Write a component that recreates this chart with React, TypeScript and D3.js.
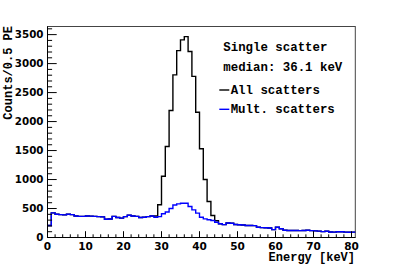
import React from "react";
import * as d3 from "d3";

// 1 keV bins, lower edges 0..80
const binLowEdges: number[] = d3.range(0, 81);

const multScatters: number[] = [
  207, 425, 400, 395, 390, 400, 395, 370, 365, 365,
  370, 368, 365, 360, 355, 315, 320, 365, 345, 335,
  360, 385, 370, 365, 345, 350, 360, 370, 350, 360,
  410, 440, 500, 560, 580, 592, 590, 534, 477, 420,
  350, 322, 305, 293, 264, 236, 222, 250, 245, 225,
  220, 215, 208, 207, 205, 178, 170, 168, 165, 135,
  178, 150, 125, 122, 120, 120, 118, 120, 125, 118,
  115, 110, 102, 108, 95, 93, 100, 98, 92, 90,
  92,
];

const allScatters: number[] = [
  207, 425, 400, 395, 390, 400, 395, 370, 365, 365,
  370, 368, 365, 360, 355, 315, 320, 365, 345, 335,
  360, 385, 370, 365, 345, 350, 360, 370, 370, 565,
  1057, 1569, 2190, 2805, 3224, 3410, 3466, 3210, 2780, 2160,
  1530, 1000, 620, 380, 290, 236, 222, 250, 245, 225,
  220, 215, 208, 207, 205, 178, 170, 168, 165, 135,
  178, 150, 125, 122, 120, 120, 118, 120, 125, 118,
  115, 110, 102, 108, 95, 93, 100, 98, 92, 90,
  92,
];

const xTicks: number[] = [0, 10, 20, 30, 40, 50, 60, 70, 80];
const yTicks: number[] = [0, 500, 1000, 1500, 2000, 2500, 3000, 3500];
const xDomain: [number, number] = [0, 81];
const yDomain: [number, number] = [0, 3640];
const binWidth = 1;

const textLines = ["Single scatter", "median: 36.1 keV"];
const legendItems = [
  { label: "All scatters", color: "#000000" },
  { label: "Mult. scatters", color: "#0000ff" },
];

const W = 395;
const H = 267;
const L = 47.5;
const R = 355.3;
const T = 26.5;
const B = 237.5;

export default function App() {
  const x = d3.scaleLinear().domain(xDomain).range([L, R]);
  const y = d3.scaleLinear().domain(yDomain).range([B, T]);

  const stepPath = (vals: number[]) => {
    const pts: [number, number][] = binLowEdges.map((e, i) => [e, vals[i]]);
    pts.push([binLowEdges[binLowEdges.length - 1] + binWidth, vals[vals.length - 1]]);
    return d3
      .line<[number, number]>()
      .x((d) => x(d[0]))
      .y((d) => y(d[1]))
      .curve(d3.curveStepAfter)(pts) as string;
  };

  const xMinor = d3.range(0, 81, 2).filter((v) => v % 10 !== 0);
  const yMinor = d3.range(0, 3601, 100).filter((v) => v % 500 !== 0);

  const mono = "'Liberation Mono', 'DejaVu Sans Mono', monospace";
  const sans = "'DejaVu Sans', sans-serif";

  return (
    <div style={{ position: "absolute", left: 0, top: 0 }}>
      <svg width={W} height={H} style={{ display: "block", background: "#fff" }}>
        <rect x={0} y={0} width={W} height={H} fill="#fff" />
        {/* frame */}
        <rect x={L} y={T} width={R - L} height={B - T} fill="none" stroke="#444" strokeWidth={1} />

        {/* histograms */}
        <path d={stepPath(allScatters)} fill="none" stroke="#000" strokeWidth={1.4} />
        <path d={stepPath(multScatters)} fill="none" stroke="#0000ff" strokeWidth={1.4} />

        {/* axes */}
        <line x1={L} x2={R} y1={B} y2={B} stroke="#000" />
        <line x1={L} x2={L} y1={T} y2={B} stroke="#000" />
        {xTicks.map((t) => (
          <g key={"xt" + t}>
            <line x1={x(t)} x2={x(t)} y1={B} y2={B - 6.3} stroke="#000" />
            <text
              x={x(t)}
              y={250}
              textAnchor="middle"
              fontFamily={sans}
              fontWeight="bold"
              fontSize={10.5}
            >
              {t}
            </text>
          </g>
        ))}
        {xMinor.map((t) => (
          <line key={"xm" + t} x1={x(t)} x2={x(t)} y1={B} y2={B - 3.2} stroke="#000" />
        ))}
        {yTicks.map((t) => (
          <g key={"yt" + t}>
            <line x1={L} x2={L + 9.2} y1={y(t)} y2={y(t)} stroke="#000" />
            <text
              x={43.5}
              y={y(t) + 3.7}
              textAnchor="end"
              fontFamily={sans}
              fontWeight="bold"
              fontSize={10.3}
            >
              {t}
            </text>
          </g>
        ))}
        {yMinor.map((t) => (
          <line key={"ym" + t} x1={L} x2={L + 4.6} y1={y(t)} y2={y(t)} stroke="#000" />
        ))}

        {/* axis titles */}
        <text x={355} y={261} textAnchor="end" fontFamily={mono} fontWeight="bold" fontSize={12}>
          Energy [keV]
        </text>
        <text
          transform={`translate(11.5, 26) rotate(-90)`}
          textAnchor="end"
          fontFamily={mono}
          fontWeight="bold"
          fontSize={12}
        >
          Counts/0.5 PE
        </text>

        {/* annotation */}
        {textLines.map((s, i) => (
          <text
            key={s}
            x={223.3}
            y={50.5 + i * 20.3}
            fontFamily={mono}
            fontWeight="bold"
            fontSize={12.4}
          >
            {s}
          </text>
        ))}
        {legendItems.map((it, i) => (
          <g key={it.label}>
            <line
              x1={219.3}
              x2={229.3}
              y1={90 + i * 19.3}
              y2={90 + i * 19.3}
              stroke={it.color}
              strokeWidth={1.4}
            />
            <text
              x={230.7}
              y={93.6 + i * 19.3}
              fontFamily={mono}
              fontWeight="bold"
              fontSize={12.4}
            >
              {it.label}
            </text>
          </g>
        ))}
      </svg>
    </div>
  );
}
